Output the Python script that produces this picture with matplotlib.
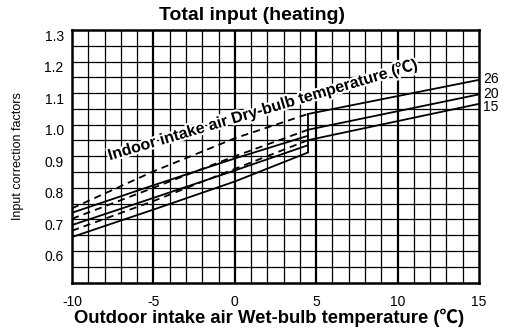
import matplotlib.pyplot as plt
import matplotlib.patheffects as pe
from matplotlib.transforms import ScaledTranslation
import numpy as np

plt.rcParams['font.family'] = ['Liberation Sans', 'Noto Sans CJK JP', 'DejaVu Sans']

# indoor dry-bulb temperatures (labels at the right)
db_temps = ['26', '20', '15']

# low outdoor temperature range (up to the step at 4.5)
x_low = [-10, -5, 0, 4.5]
dashed_26 = [0.735, 0.852, 0.957, 1.034]
dashed_20 = [0.702, 0.800, 0.900, 0.984]
dashed_15 = [0.664, 0.758, 0.860, 0.951]
solid_26 = [0.721, 0.808, 0.893, 0.965]
solid_20 = [0.682, 0.768, 0.855, 0.935]
solid_15 = [0.644, 0.731, 0.820, 0.912]

# high outdoor temperature range
x_high = [4.5, 15]
high_26 = [1.034, 1.142]
high_20 = [0.984, 1.096]
high_15 = [0.951, 1.066]

x_ticks = [-10, -5, 0, 5, 10, 15]
y_ticks = [0.6, 0.7, 0.8, 0.9, 1.0, 1.1, 1.2, 1.3]

fig = plt.figure(figsize=(5.12, 3.36), dpi=100)
ax = fig.add_axes([0.1406, 0.1592, 0.7949, 0.7515])
ax.set_xlim(-10, 15)
ax.set_ylim(0.5, 1.3)

# grid: 1 degree columns, 0.05 rows, heavier every 5 degrees
for xv in range(-9, 15):
    lw = 1.6 if xv % 5 == 0 else 0.9
    ax.axvline(xv, color='black', lw=lw, zorder=1)
for yv in np.arange(0.55, 1.3, 0.05):
    ax.axhline(yv, color='black', lw=0.9, zorder=1)

dash = (0, (4, 2.8))
for ys in (dashed_26, dashed_20, dashed_15):
    ax.plot(x_low, ys, color='black', lw=1.3, linestyle=dash, zorder=3)
for ys in (solid_26, solid_20, solid_15):
    ax.plot(x_low, ys, color='black', lw=1.3, zorder=3)
for ys in (high_26, high_20, high_15):
    ax.plot(x_high, ys, color='black', lw=1.3, zorder=3)
ax.plot([4.5, 4.5], [solid_15[-1], high_26[0]], color='black', lw=1.3, zorder=3)

label_shift = [0.5, 0, -2.5]
for lab, ys, dy in zip(db_temps, (high_26, high_20, high_15), label_shift):
    ax.annotate(lab, (15, ys[-1]), xytext=(3, dy), textcoords='offset points',
                va='center', ha='left', fontsize=10, annotation_clip=False)

ax.text(1.85, 1.033, 'Indoor intake air Dry-bulb temperature (℃)',
        rotation=16.5, rotation_mode='anchor', ha='center', va='baseline',
        fontsize=11.5, fontweight='bold', zorder=4,
        path_effects=[pe.withStroke(linewidth=3, foreground='white')])

ax.set_xticks(x_ticks)
ax.set_yticks(y_ticks)
ax.set_xticklabels([str(v) for v in x_ticks], fontsize=10)
ax.set_yticklabels([f'{v:.1f}' for v in y_ticks], fontsize=10)
ax.tick_params(length=0, pad=9)
ax.tick_params(axis='y', pad=6)
for lbl in ax.get_yticklabels():
    lbl.set_transform(lbl.get_transform() + ScaledTranslation(0, -5 / 100, fig.dpi_scale_trans))

for sp in ax.spines.values():
    sp.set_linewidth(1.8)

fig.text(252 / 512, 1 - 15 / 336, 'Total input (heating)', ha='center', va='center',
         fontsize=14, fontweight='bold')
fig.text(269 / 512, 1 - 318 / 336, 'Outdoor intake air Wet-bulb temperature (℃)',
         ha='center', va='center', fontsize=13.3, fontweight='bold')
fig.text(18 / 512, 1 - 156 / 336, 'Input correction factors', ha='center', va='center',
         rotation=90, fontsize=9)

fig.savefig('out.png', dpi=100)
